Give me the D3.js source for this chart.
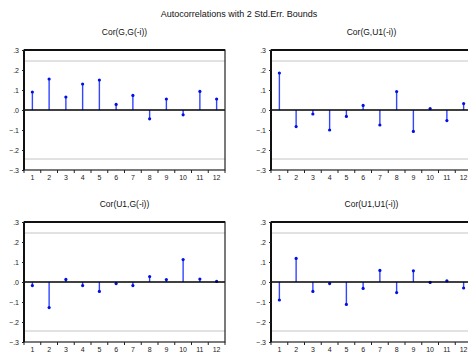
<!DOCTYPE html>
<html>
<head>
<meta charset="utf-8">
<script src="https://cdn.jsdelivr.net/npm/d3@7"></script>
<style>
  html, body { margin: 0; padding: 0; background: #fff; }
  svg { display: block; font-family: Arial, "Liberation Sans", sans-serif; }
</style>
</head>
<body>
<svg id="chart" width="468" height="352"></svg>
<script>
// Cross-correlograms of G and U1 for lags 1..12, with ±2 standard-error bounds
const lags = [1, 2, 3, 4, 5, 6, 7, 8, 9, 10, 11, 12];
const corGG   = [0.090, 0.155, 0.065, 0.130, 0.150, 0.028, 0.073, -0.044, 0.055, -0.024, 0.093, 0.055];
const corGU1  = [0.185, -0.083, -0.020, -0.100, -0.032, 0.023, -0.075, 0.092, -0.107, 0.007, -0.053, 0.032];
const corU1G  = [-0.018, -0.128, 0.013, -0.018, -0.047, -0.008, -0.018, 0.027, 0.012, 0.112, 0.015, 0.003];
const corU1U1 = [-0.090, 0.118, -0.047, -0.008, -0.112, -0.032, 0.058, -0.053, 0.056, -0.002, 0.006, -0.030];
const yTicks = [0.3, 0.2, 0.1, 0.0, -0.1, -0.2, -0.3];
const bound = 0.245;
const mainTitle = "Autocorrelations with 2 Std.Err. Bounds";

const panels = [
  { title: "Cor(G,G(-i))",   values: corGG,   x0: 24,  top: 50 },
  { title: "Cor(G,U1(-i))",  values: corGU1,  x0: 271, top: 50 },
  { title: "Cor(U1,G(-i))",  values: corU1G,  x0: 24,  top: 222 },
  { title: "Cor(U1,U1(-i))", values: corU1U1, x0: 271, top: 222 }
];
const plotW = 201, plotH = 120;

const svg = d3.select("#chart");

svg.append("text")
  .attr("x", 239).attr("y", 17)
  .attr("text-anchor", "middle")
  .attr("font-size", 9)
  .attr("fill", "#111")
  .text(mainTitle);

const fmt = v => {
  const s = d3.format(".1f")(v).replace("0.", ".");
  return s === "-.0" ? ".0" : s;
};

panels.forEach(p => {
  const g = svg.append("g").attr("transform", `translate(${p.x0},${p.top})`);
  const x = d3.scaleBand().domain(lags).range([0, plotW]);
  const y = d3.scaleLinear().domain([-0.3, 0.3]).range([plotH, 0]);

  g.append("text")
    .attr("x", plotW / 2).attr("y", -15)
    .attr("text-anchor", "middle")
    .attr("font-size", 8.5)
    .attr("fill", "#111")
    .text(p.title);

  // ±2 S.E. bounds
  g.selectAll(".bound").data([bound, -bound]).join("line")
    .attr("x1", 0).attr("x2", plotW)
    .attr("y1", d => y(d)).attr("y2", d => y(d))
    .attr("stroke", "#c4c4c4").attr("stroke-width", 1);

  // stems
  g.selectAll(".stem").data(p.values).join("line")
    .attr("x1", (d, i) => x(lags[i]) + x.bandwidth() / 2)
    .attr("x2", (d, i) => x(lags[i]) + x.bandwidth() / 2)
    .attr("y1", y(0)).attr("y2", d => y(d))
    .attr("stroke", "#3346ff").attr("stroke-width", 1.4);

  // end markers
  g.selectAll(".dot").data(p.values).join("circle")
    .attr("cx", (d, i) => x(lags[i]) + x.bandwidth() / 2)
    .attr("cy", d => y(d))
    .attr("r", 1.6)
    .attr("fill", "#0010e0");

  // zero line
  g.append("line")
    .attr("x1", 0).attr("x2", plotW)
    .attr("y1", y(0)).attr("y2", y(0))
    .attr("stroke", "#000").attr("stroke-width", 1.5);

  // frame
  g.append("rect")
    .attr("x", 0).attr("y", 0).attr("width", plotW).attr("height", plotH)
    .attr("fill", "none").attr("stroke", "#222").attr("stroke-width", 1.2);
  g.append("line").attr("x1", 0).attr("x2", plotW).attr("y1", 0).attr("y2", 0)
    .attr("stroke", "#111").attr("stroke-width", 2);
  g.append("line").attr("x1", 0).attr("x2", 0).attr("y1", 0).attr("y2", plotH)
    .attr("stroke", "#111").attr("stroke-width", 2);

  // y axis
  const yAxis = d3.axisLeft(y).tickValues(yTicks).tickSize(2).tickPadding(3).tickFormat(fmt);
  const ya = g.append("g").call(yAxis);
  ya.select(".domain").remove();
  ya.selectAll("text").attr("font-size", 7).attr("fill", "#222").attr("font-family", "Arial, 'Liberation Sans', sans-serif");
  ya.selectAll("line").attr("stroke", "#222");

  // x axis: lag labels centred in bands, ticks at band edges
  const xa = g.append("g").attr("transform", `translate(0,${plotH})`);
  xa.selectAll(".lbl").data(lags).join("text")
    .attr("x", d => x(d) + x.bandwidth() / 2)
    .attr("y", 10)
    .attr("text-anchor", "middle")
    .attr("font-size", 7)
    .attr("fill", "#222")
    .text(d => d);
  xa.selectAll(".tk").data(d3.range(lags.length + 1)).join("line")
    .attr("x1", i => i * x.step()).attr("x2", i => i * x.step())
    .attr("y1", 0).attr("y2", 3)
    .attr("stroke", "#222").attr("stroke-width", 1);
});
</script>
</body>
</html>
